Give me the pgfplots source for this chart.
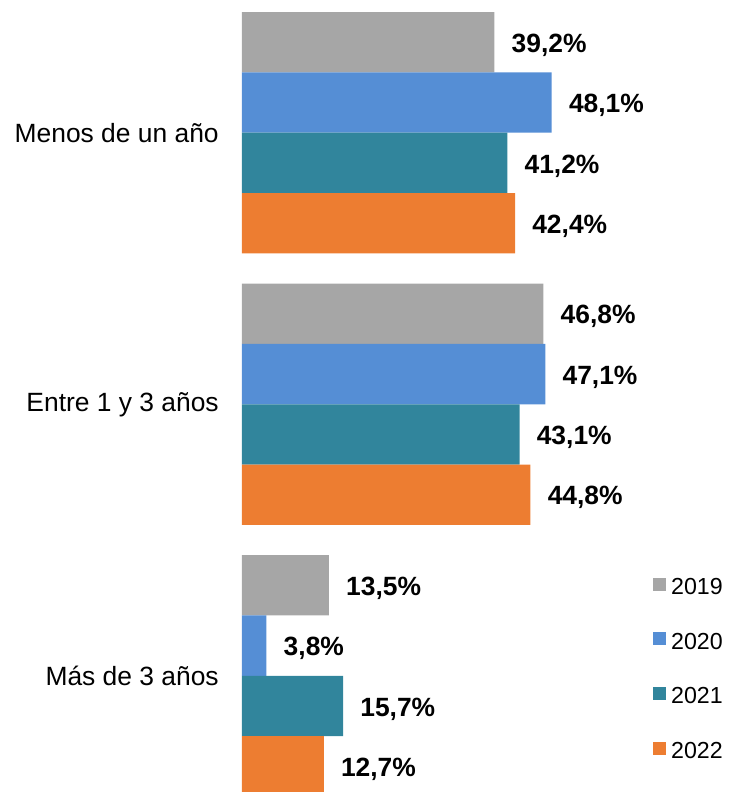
\documentclass[border=0pt]{standalone}
\usepackage{fontspec}
\setmainfont{Liberation Sans}
\usepackage{pgfplots}
\pgfplotsset{compat=1.18}
\definecolor{c19}{RGB}{166,166,166}
\definecolor{c20}{RGB}{85,142,213}
\definecolor{c21}{RGB}{49,133,156}
\definecolor{c22}{RGB}{237,125,49}
\begin{document}
\begin{tikzpicture}
\begin{axis}[
  scale only axis, width=364.5pt, height=594pt,
  xmin=0, xmax=75.47, ymin=-0.199, ymax=12.925, y dir=reverse,
  axis line style={draw=none}, xtick=\empty,
  ytick={2,6.5,11},
  yticklabels={Menos de un año, Entre 1 y 3 años, Más de 3 años},
  major tick length=0pt,
  yticklabel style={font=\fontsize{19.8}{23}\selectfont, inner sep=0pt, xshift=-17.25pt},
  xbar, bar width=1, bar shift=0pt,
  point meta=x,
  nodes near coords={\pgfmathprintnumber[fixed,fixed zerofill,precision=1,use comma,assume math mode=true]{\pgfplotspointmeta}\%},
  nodes near coords style={font=\fontsize{19.8}{23}\selectfont\bfseries, anchor=west, inner sep=0pt, xshift=12.75pt, yshift=-2.25pt, text=black},
  legend style={at={(axis cs:63.8,9.37)}, anchor=north west, draw=none, fill=none, inner sep=0pt,
    font=\fontsize{17.4}{20}\selectfont, row sep=28.5pt, column sep=3.75pt,
    nodes={inner sep=0pt, text height=12.5pt, text depth=0pt}},
  legend cell align=left,
  legend image code/.code={\fill[#1] (0pt,-3.5pt) rectangle (9.75pt,6.25pt);},
]
\addplot[fill=c19, draw=none] coordinates {(39.2,0.5) (46.8,5) (13.5,9.5)};
\addplot[fill=c20, draw=none] coordinates {(48.1,1.5) (47.1,6) (3.8,10.5)};
\addplot[fill=c21, draw=none] coordinates {(41.2,2.5) (43.1,7) (15.7,11.5)};
\addplot[fill=c22, draw=none] coordinates {(42.4,3.5) (44.8,8) (12.7,12.5)};
\legend{2019,2020,2021,2022}
\end{axis}
\pgfresetboundingbox
\path[use as bounding box] ([xshift=-181.5pt]current axis.south west) rectangle (current axis.north east);
\end{tikzpicture}
\end{document}
